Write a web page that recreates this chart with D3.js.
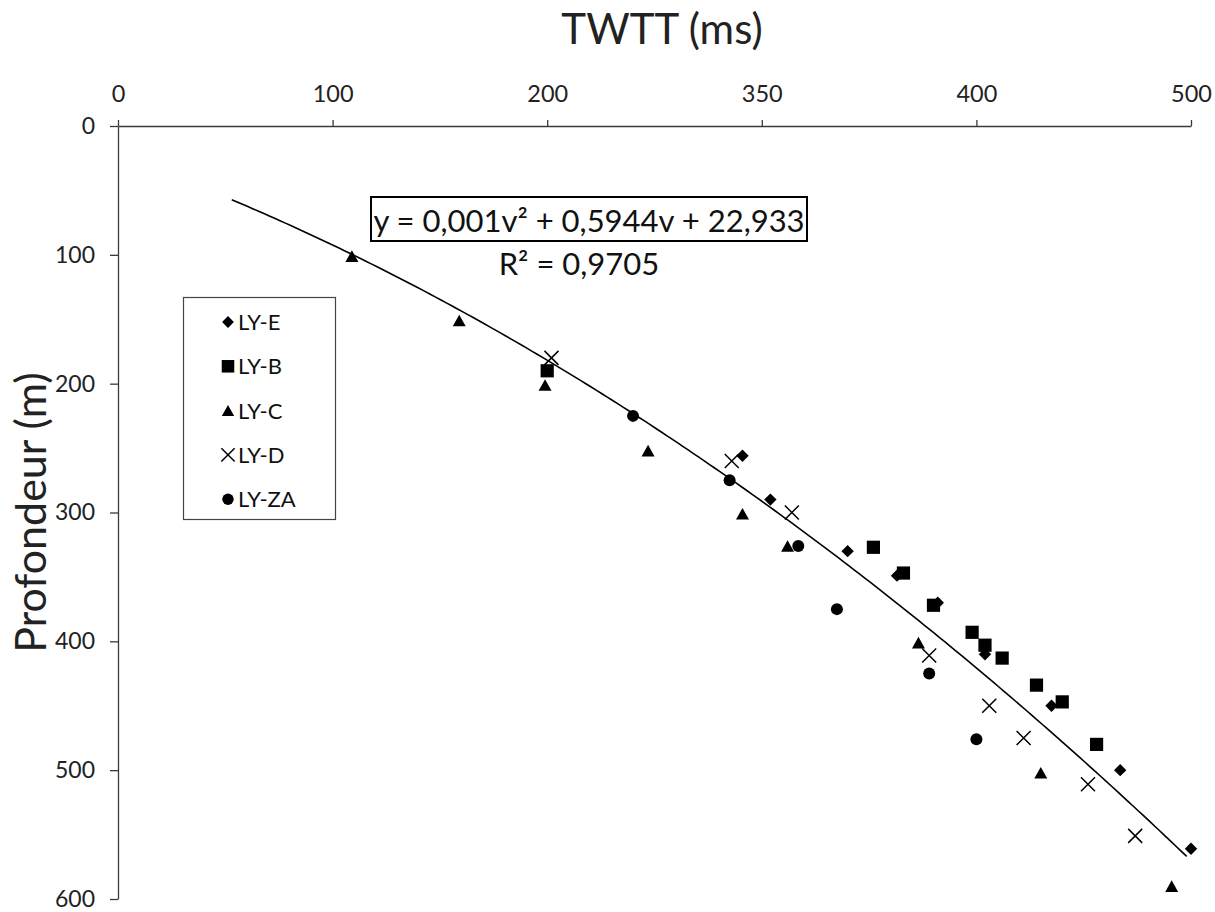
<!DOCTYPE html>
<html>
<head>
<meta charset="utf-8">
<script src="https://cdn.jsdelivr.net/npm/d3@7"></script>
<style>
  html, body { margin: 0; padding: 0; background: #fff; }
  svg { display: block; font-family: Lato, "Open Sans", sans-serif; }
</style>
</head>
<body>
<svg id="chart" width="1215" height="912"></svg>
<script>
// ---- Data ----
const xTickValues = [0, 100, 200, 300, 400, 500];
const xTickLabels = ["0", "100", "200", "350", "400", "500"];
const yTickValues = [0, 100, 200, 300, 400, 500, 600];

const seriesNames = ["LY-E", "LY-B", "LY-C", "LY-D", "LY-ZA"];
const seriesShapes = ["diamond", "square", "triangle", "cross", "circle"];

// [TWTT (ms), Profondeur (m)]
const lyE = [[291,256],[304,290],[340,330],[363,349],[382,370],[404,410],[435,450],[467,500],[500,561]];
const lyB = [[200,190],[352,327],[366,347],[380,372],[398,393],[404,403],[412,413],[428,434],[440,447],[456,480]];
const lyC = [[109,101],[159,151],[199,201],[247,252],[291,301],[312,326],[373,401],[430,502],[491,590]];
const lyD = [[202,180],[286,260],[314,300],[378,411],[406,450],[422,475],[452,511],[474,551]];
const lyZA = [[240,225],[285,275],[317,326],[335,375],[378,425],[400,476]];

// polynomial trendline shown on chart: y = a v^2 + b v + c
const trendCoef = [0.001, 0.5944, 22.933];
const trendDomain = [53, 500];

const equationText = "y = 0,001v² + 0,5944v + 22,933";
const r2Text = "R² = 0,9705";
const xTitle = "TWTT (ms)";
const yTitle = "Profondeur (m)";

// ---- Drawing ----
const svg = d3.select("#chart");
const x = d3.scaleLinear().domain([0, 500]).range([118, 1191]);
const y = d3.scaleLinear().domain([0, 600]).range([126, 899]);

const axisColor = "#3a3a3a";

// X axis (top)
const gx = svg.append("g").attr("transform", `translate(0,${y(0)})`)
  .call(d3.axisTop(x).tickValues(xTickValues)
    .tickFormat((d, i) => xTickLabels[i]).tickSize(6).tickSizeOuter(0));
gx.select(".domain").attr("stroke", axisColor).attr("stroke-width", 1.3);
gx.selectAll(".tick line").attr("stroke", axisColor).attr("stroke-width", 1.3);
gx.selectAll(".tick text").attr("y", -24).attr("dy", "0")
  .attr("font-size", 23.5).attr("fill", "#222").attr("font-family", "Lato");

// Y axis (left)
const gy = svg.append("g").attr("transform", `translate(${x(0)},0)`)
  .call(d3.axisLeft(y).tickValues(yTickValues).tickSize(8).tickSizeOuter(0));
gy.select(".domain").attr("stroke", axisColor).attr("stroke-width", 1.3);
gy.selectAll(".tick line").attr("stroke", axisColor).attr("stroke-width", 1.3);
gy.selectAll(".tick text").attr("x", -23).attr("dy", "0.32em")
  .attr("font-size", 23).attr("fill", "#222").attr("font-family", "Lato");

// Axis titles
svg.append("text").attr("x", 662).attr("y", 44).attr("text-anchor", "middle")
  .attr("font-size", 42).attr("fill", "#222").text(xTitle);
svg.append("text").attr("transform", `translate(46,${(y(0) + y(600)) / 2}) rotate(-90)`)
  .attr("text-anchor", "middle").attr("font-size", 43).attr("fill", "#222").text(yTitle);

// Trendline
const trendPts = d3.range(trendDomain[0], trendDomain[1] + 0.001, 2.5)
  .map(v => [v, trendCoef[0] * v * v + trendCoef[1] * v + trendCoef[2]]);
svg.append("path").datum(trendPts)
  .attr("d", d3.line().x(d => x(d[0])).y(d => y(d[1])))
  .attr("fill", "none").attr("stroke", "#000").attr("stroke-width", 1.6);

// Marker drawing
function drawMarker(g, shape, cx, cy, s) {
  s = s || 1;
  if (shape === "diamond") {
    const r = 6.2 * s;
    g.append("path").attr("d", `M${cx},${cy - r}L${cx + r},${cy}L${cx},${cy + r}L${cx - r},${cy}Z`).attr("fill", "#000");
  } else if (shape === "square") {
    const h = 6.6 * s;
    g.append("rect").attr("x", cx - h).attr("y", cy - h).attr("width", 2 * h).attr("height", 2 * h).attr("fill", "#000");
  } else if (shape === "triangle") {
    const w = 6.5 * s, h = 5.8 * s;
    g.append("path").attr("d", `M${cx},${cy - h}L${cx + w},${cy + h}L${cx - w},${cy + h}Z`).attr("fill", "#000");
  } else if (shape === "cross") {
    const h = 7 * s;
    g.append("path").attr("d", `M${cx - h},${cy - h}L${cx + h},${cy + h}M${cx - h},${cy + h}L${cx + h},${cy - h}`)
      .attr("stroke", "#000").attr("stroke-width", 1.5).attr("fill", "none");
  } else if (shape === "circle") {
    g.append("circle").attr("cx", cx).attr("cy", cy).attr("r", 6 * s).attr("fill", "#000");
  }
}

const allSeries = [lyE, lyB, lyC, lyD, lyZA];
allSeries.forEach((data, i) => {
  const g = svg.append("g").attr("class", "series-" + seriesNames[i]);
  data.forEach(d => drawMarker(g, seriesShapes[i], x(d[0]), y(d[1]), 1));
});

// Equation label
const eqG = svg.append("g");
eqG.append("rect").attr("x", 371).attr("y", 197).attr("width", 436).attr("height", 44)
  .attr("fill", "#fff").attr("stroke", "#000").attr("stroke-width", 2);
eqG.append("text").attr("x", 589).attr("y", 232).attr("text-anchor", "middle")
  .attr("font-size", 31).attr("fill", "#111").text(equationText);
eqG.append("text").attr("x", 579).attr("y", 275).attr("text-anchor", "middle")
  .attr("font-size", 31).attr("fill", "#111").text(r2Text);

// Legend
const lg = svg.append("g");
lg.append("rect").attr("x", 183.5).attr("y", 297.5).attr("width", 152).attr("height", 222)
  .attr("fill", "#fff").attr("stroke", "#444").attr("stroke-width", 1.2);
seriesNames.forEach((name, i) => {
  const cy = 322 + i * 44.3;
  drawMarker(lg, seriesShapes[i], 228, cy, 0.95);
  lg.append("text").attr("x", 238).attr("y", cy).attr("dy", "0.36em")
    .attr("font-size", 22).attr("fill", "#111").text(name);
});
</script>
</body>
</html>
